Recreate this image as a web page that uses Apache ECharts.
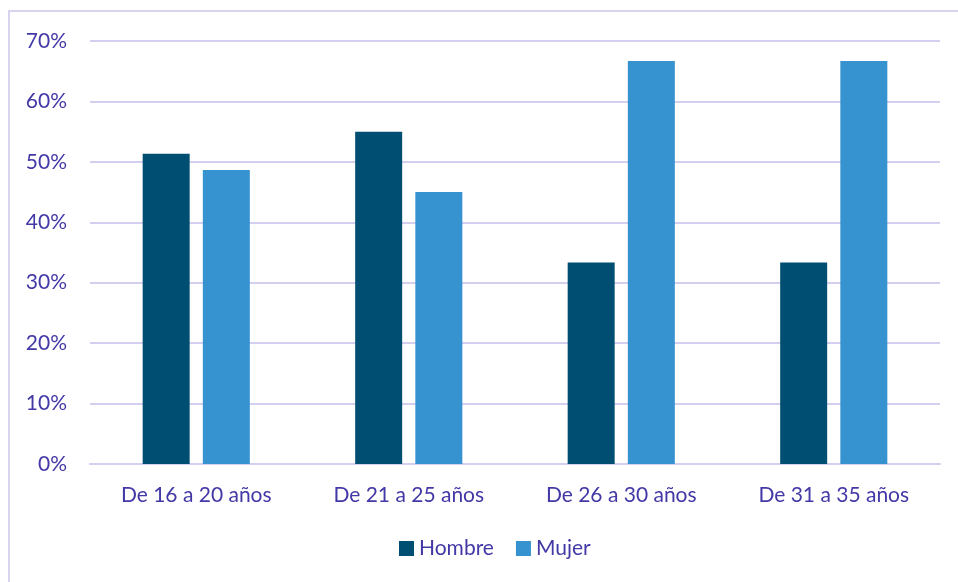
<!DOCTYPE html>
<html>
<head>
<meta charset="utf-8">
<title>Hombre / Mujer por edad</title>
<script src="https://cdn.jsdelivr.net/npm/echarts@6/dist/echarts.min.js"></script>
<style>
body { margin: 0; background: #fff; }
#chart { width: 958px; height: 582px; }
</style>
</head>
<body>
<div id="chart"></div>
<script>
var categories = ["De 16 a 20 años", "De 21 a 25 años", "De 26 a 30 años", "De 31 a 35 años"];
var hombre = [51.35, 55.0, 33.33, 33.33];
var mujer = [48.65, 45.0, 66.67, 66.67];

var textColor = "#4238A6";
var gridColor = "#D3CFEE";

var my_chart = echarts.init(document.getElementById("chart"));

var option = {
	animation: false,
	textStyle: { fontFamily: "Lato", color: textColor },
	graphic: [{
		type: "rect",
		shape: { x: 9, y: 11, width: 1000, height: 700 },
		style: { fill: null, stroke: "#D8D4F0", lineWidth: 2 }
	}],
	grid: { left: 90, right: 18, top: 41, bottom: 118 },
	legend: {
		bottom: 18,
		left: 394,
		itemWidth: 15,
		itemHeight: 15,
		itemGap: 22,
		icon: "rect",
		textStyle: { fontSize: 21, color: textColor, fontFamily: "Lato" },
		data: ["Hombre", "Mujer"]
	},
	xAxis: {
		type: "category",
		data: categories,
		axisLine: { lineStyle: { color: gridColor, width: 2 } },
		axisTick: { show: false },
		axisLabel: { fontSize: 21, color: textColor, margin: 21, fontFamily: "Lato" }
	},
	yAxis: {
		type: "value",
		min: 0,
		max: 70,
		interval: 10,
		axisLine: { show: false },
		axisTick: { show: false },
		splitLine: { lineStyle: { color: gridColor, width: 2 } },
		axisLabel: {
			fontSize: 21,
			color: textColor,
			margin: 23,
			fontFamily: "Lato",
			formatter: "{value}%"
		}
	},
	series: [{
		name: "Hombre",
		type: "bar",
		data: hombre,
		barWidth: 47,
		barGap: "28%",
		itemStyle: { color: "#004F73" }
	}, {
		name: "Mujer",
		type: "bar",
		data: mujer,
		barWidth: 47,
		itemStyle: { color: "#3792D0" }
	}]
};

my_chart.setOption(option);
</script>
</body>
</html>
